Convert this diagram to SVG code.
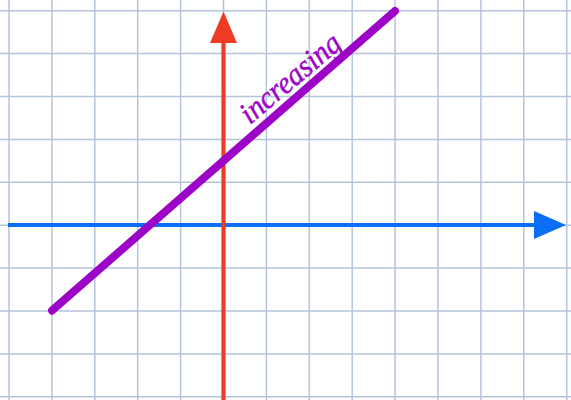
<svg xmlns="http://www.w3.org/2000/svg" width="571" height="400" viewBox="0 0 571 400">
  <defs>
    <style>
      .grid line { stroke: #b4c4dc; stroke-width: 1.5; }
      .label { font-family: "Liberation Serif", "DejaVu Serif", serif; font-style: italic; fill: #9c05c8; }
    </style>
  </defs>
  <rect width="571" height="400" fill="#ffffff"/>
  <g id="grid" class="grid">
    <line x1="9" y1="0" x2="9" y2="400"/>
    <line x1="51.9" y1="0" x2="51.9" y2="400"/>
    <line x1="94.8" y1="0" x2="94.8" y2="400"/>
    <line x1="137.7" y1="0" x2="137.7" y2="400"/>
    <line x1="180.6" y1="0" x2="180.6" y2="400"/>
    <line x1="223.5" y1="0" x2="223.5" y2="400"/>
    <line x1="266.4" y1="0" x2="266.4" y2="400"/>
    <line x1="309.3" y1="0" x2="309.3" y2="400"/>
    <line x1="352.2" y1="0" x2="352.2" y2="400"/>
    <line x1="395.1" y1="0" x2="395.1" y2="400"/>
    <line x1="438" y1="0" x2="438" y2="400"/>
    <line x1="480.9" y1="0" x2="480.9" y2="400"/>
    <line x1="523.8" y1="0" x2="523.8" y2="400"/>
    <line x1="566.7" y1="0" x2="566.7" y2="400"/>
    <line x1="0" y1="10.7" x2="571" y2="10.7"/>
    <line x1="0" y1="53.6" x2="571" y2="53.6"/>
    <line x1="0" y1="96.5" x2="571" y2="96.5"/>
    <line x1="0" y1="139.4" x2="571" y2="139.4"/>
    <line x1="0" y1="182.3" x2="571" y2="182.3"/>
    <line x1="0" y1="225.2" x2="571" y2="225.2"/>
    <line x1="0" y1="268.1" x2="571" y2="268.1"/>
    <line x1="0" y1="311" x2="571" y2="311"/>
    <line x1="0" y1="353.9" x2="571" y2="353.9"/>
    <line x1="0" y1="396.8" x2="571" y2="396.8"/>
  </g>
  <g id="x-axis">
    <line x1="8" y1="225" x2="536" y2="225" stroke="#0a6ef7" stroke-width="4.2"/>
    <polygon points="534,211 566,225 534,239" fill="#0a6ef7"/>
  </g>
  <g id="y-axis">
    <line x1="223.5" y1="400" x2="223.5" y2="41" stroke="#ef3a25" stroke-width="4.2"/>
    <polygon points="210,43 223.5,11.5 237,43" fill="#ef3a25"/>
  </g>
  <g id="line">
    <line x1="52" y1="310.5" x2="395" y2="11" stroke="#9c05c8" stroke-width="8" stroke-linecap="round"/>
  </g>
  <g id="label">
    <text class="label" x="0" y="0" font-size="31" stroke="#9c05c8" stroke-width="0.5" textLength="122" lengthAdjust="spacingAndGlyphs" transform="translate(250,125) rotate(-40)">increasing</text>
  </g>
</svg>
